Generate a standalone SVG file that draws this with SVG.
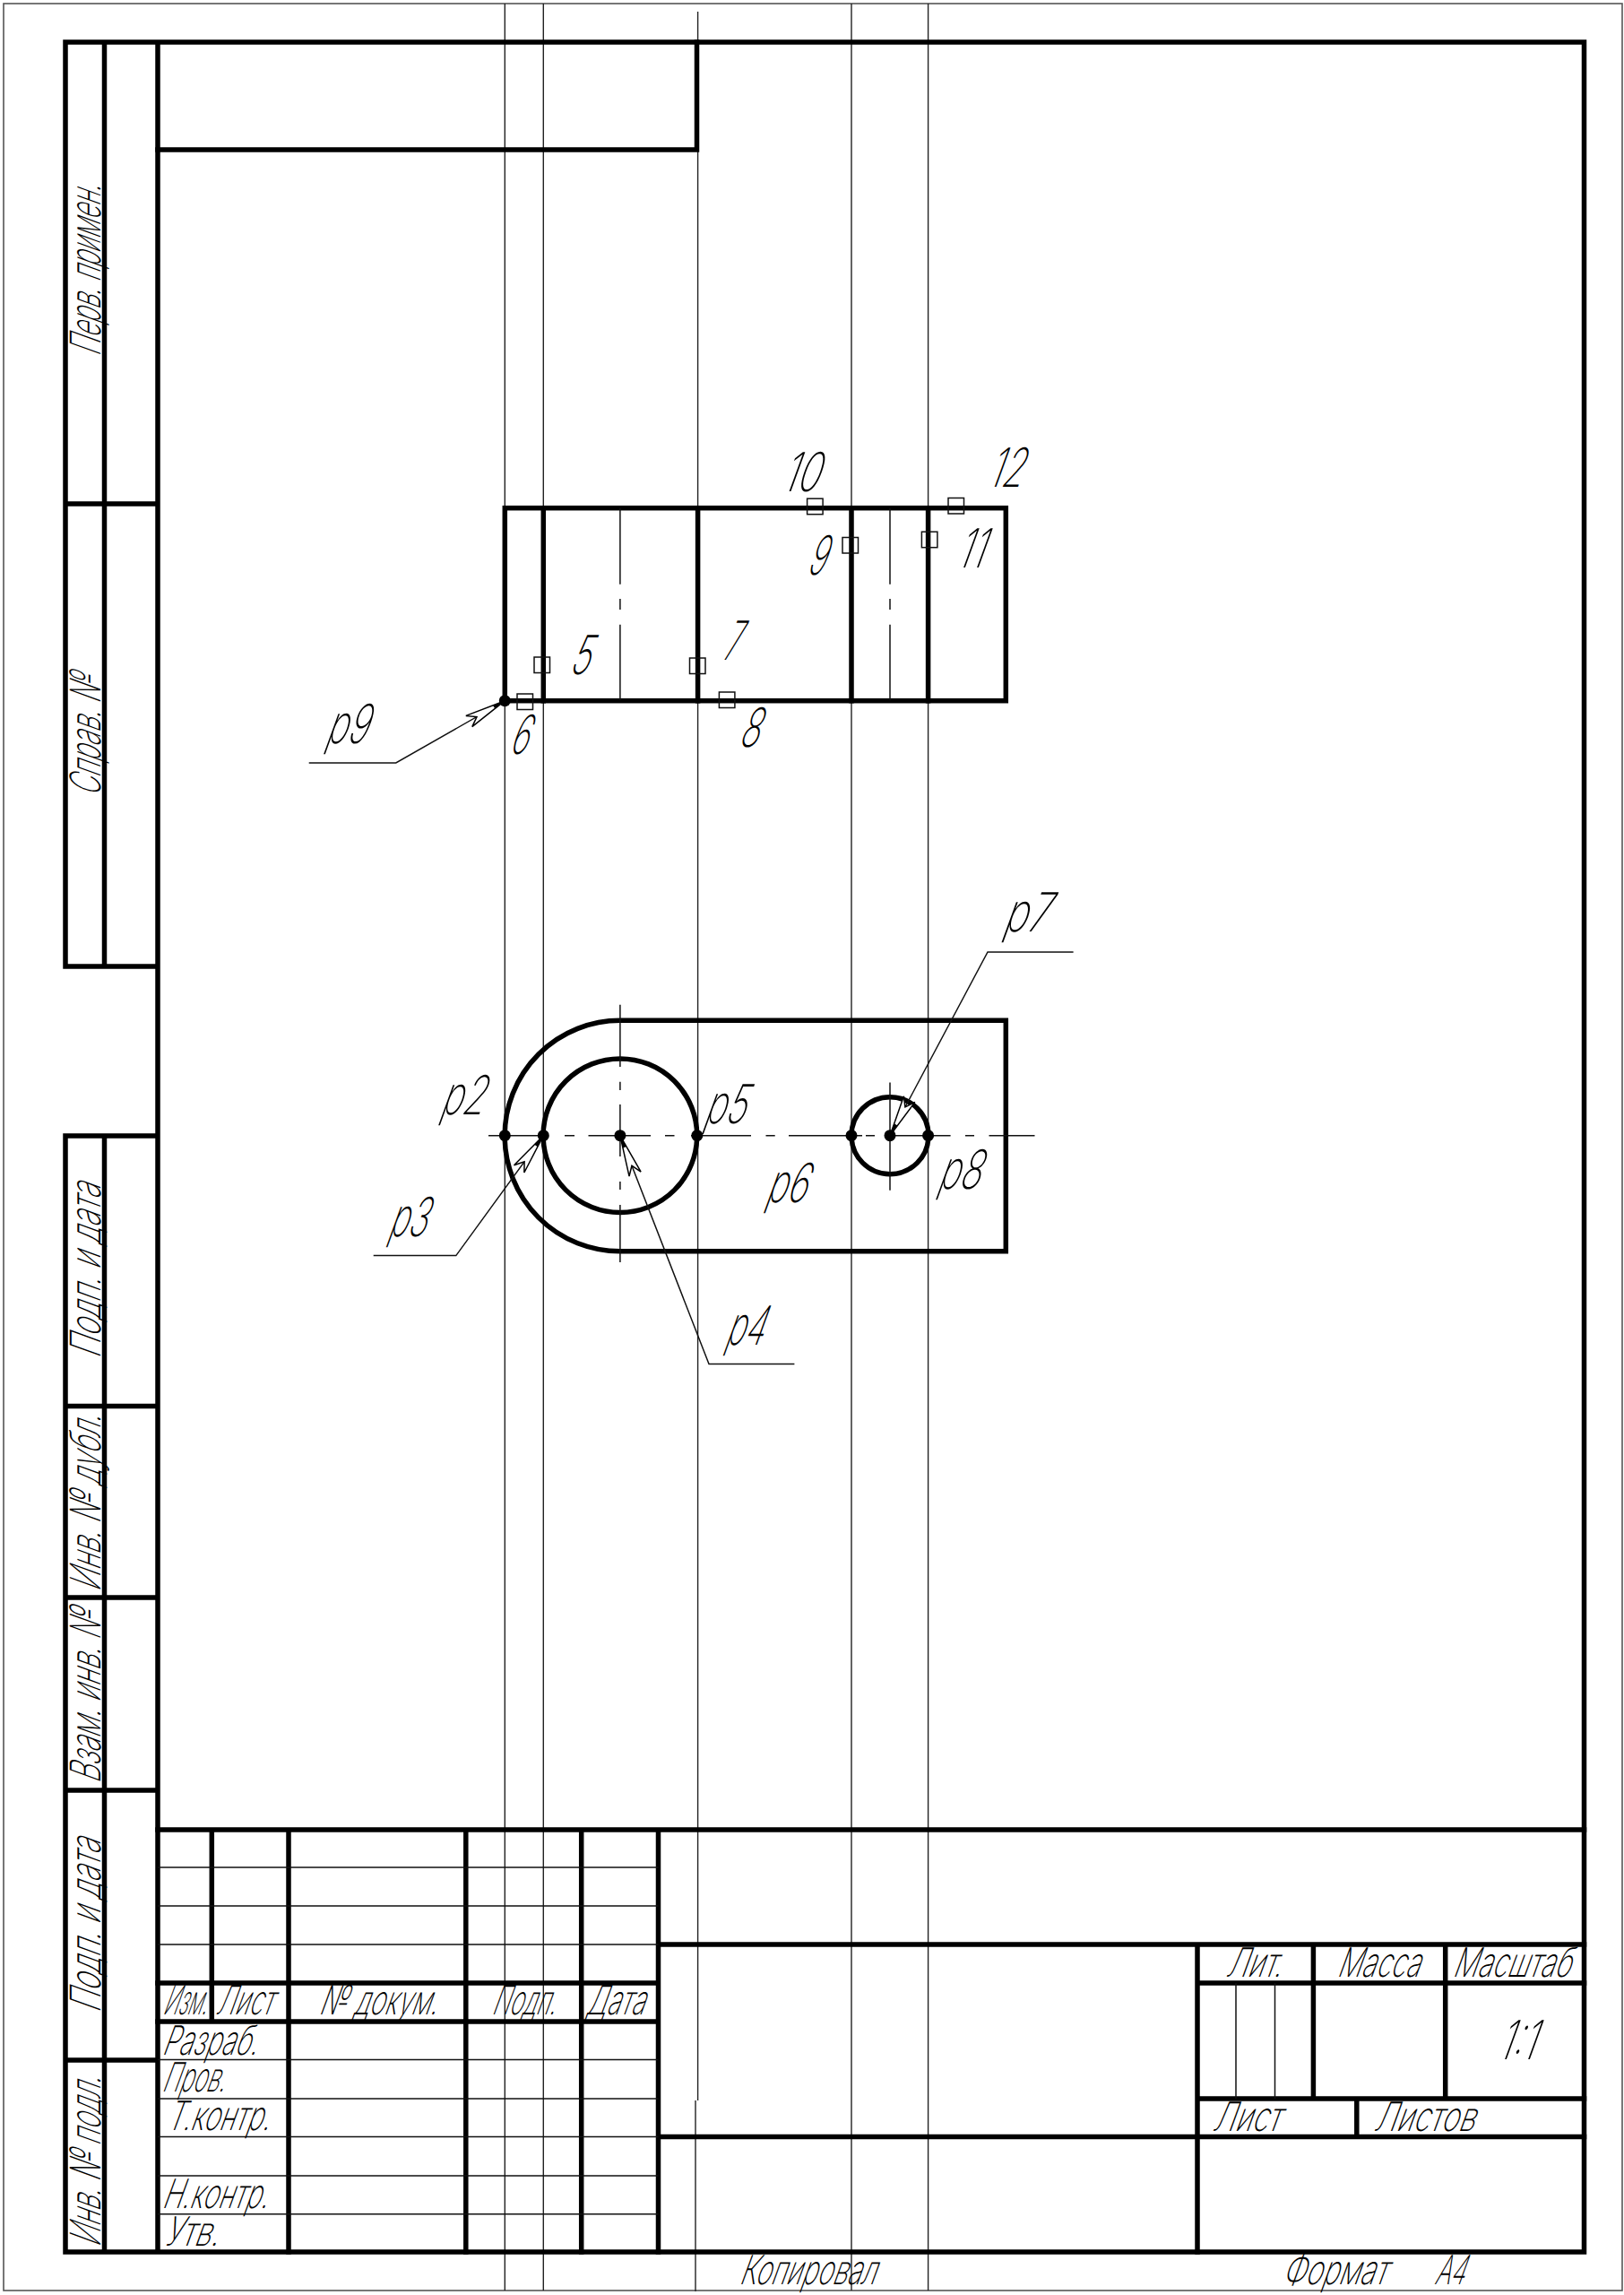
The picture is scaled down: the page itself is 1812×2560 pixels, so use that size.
<svg xmlns="http://www.w3.org/2000/svg" width="1812" height="2560" viewBox="0 0 1812 2560">
<style>
.h{stroke:#000;stroke-width:5.5;fill:none;stroke-linecap:square}
.m{stroke:#000;stroke-width:5.5;fill:none;stroke-linecap:square}
.f{stroke:#111;stroke-width:1.5;fill:none}
.q{stroke:#222;stroke-width:1.4;fill:none}
text{font-family:"Inter","Liberation Sans",sans-serif;font-weight:200;fill:#000}
.a{font-size:60px}.b{font-size:45px}.c{font-size:47px}
</style>
<defs>
<marker id="arr" viewBox="-48 -9 50 18" markerUnits="userSpaceOnUse" markerWidth="50" markerHeight="18" refX="0" refY="0" orient="auto">
<path d="M0 0L-46 -7L-36 0L-46 7Z" fill="#fff" stroke="#000" stroke-width="1.5"/>
<path d="M0 0L-14 -2.2L-14 2.2Z" fill="#000"/>
</marker>
</defs>
<rect width="1812" height="2560" fill="#fff"/>
<rect x="4" y="4" width="1806" height="2551" fill="none" stroke="#555" stroke-width="1.6"/>
<g id="construction-lines" class="q">
<path d="M563.3 4V2555M606.3 4V2555M778.6 13V2343M776 2343V2556M950 4V2555M1035.6 4V2555"/>
</g>
<g id="frame" class="h">
<path d="M73 47H1767.5V2512H73V1267H176M73 1078V47M116.5 47V1078M116.5 1267V2512M176 47V2512M73 1078H176M73 562H176M73 1568.6H176M73 1782H176M73 1997H176M73 2298H176"/>
<path d="M176 167H777.5V47"/>
</g>
<g id="title-block">
<path class="h" d="M176 2041H1767.5M176 2212H734.5M176 2255H734.5M322 2041V2512M236.3 2041V2255M519.8 2041V2512M648.7 2041V2512M734.5 2041V2512M734.5 2169H1767.5M734.5 2383.5H1767.5M1336 2169V2512M1336 2212H1767.5M1336 2341H1767.5M1465.4 2169V2341M1612.7 2169V2341M1513.8 2341V2383.5"/>
<path class="f" d="M176 2083H734.5M176 2126H734.5M176 2169H734.5M176 2297.5H734.5M176 2341H734.5M176 2383.6H734.5M176 2427H734.5M176 2469.7H734.5M1379 2212V2341M1422.5 2212V2341"/>
</g>
<g id="top-view">
<rect class="m" x="563.3" y="566.7" width="559" height="215"/>
<path class="m" d="M606.3 566.7V781.7M778.6 566.7V781.7M950 566.7V781.7M1035.6 566.7V781.7"/>
<path class="f" d="M691.9 567V651.7M691.9 668V680M691.9 696.7V781M993 567V651.7M993 668V680M993 696.7V781"/>
<g class="f"><rect x="596" y="733" width="17.5" height="17.5"/><rect x="769.5" y="734" width="17.5" height="17.5"/><rect x="577" y="774" width="17.5" height="17.5"/><rect x="802.4" y="772" width="17.5" height="17.5"/><rect x="900.6" y="556.2" width="17.5" height="17.5"/><rect x="1058" y="555.5" width="17.5" height="17.5"/><rect x="940" y="599.5" width="17.5" height="17.5"/><rect x="1028.4" y="593.2" width="17.5" height="17.5"/></g>
</g>
<g id="front-view">
<path class="m" d="M691.9 1138.3H1122.3V1395.8H691.9A128.7 128.7 0 0 1 691.9 1138.3Z"/>
<circle class="m" cx="691.9" cy="1266.7" r="85.8"/>
<circle class="m" cx="993" cy="1266.7" r="43"/>
<path class="f" stroke-width="2" d="M545 1266.7H612M630 1266.7H641M656.5 1266.7H726M742 1266.7H752.5M771 1266.7H838M854.5 1266.7H864.7M880 1266.7H962M966 1266.7H976M987 1266.7H1060.6M1077 1266.7H1087M1103.5 1266.7H1154.5M691.9 1120.7V1190M691.9 1206.7V1216M691.9 1232V1290M691.9 1318V1327M691.9 1344V1408M993 1207.5V1327.8"/>
<g fill="#000"><circle cx="563.3" cy="781.7" r="6.5"/><circle cx="563.3" cy="1266.7" r="6.5"/><circle cx="606.3" cy="1266.7" r="6.5"/><circle cx="691.9" cy="1266.7" r="6.5"/><circle cx="777.8" cy="1266.7" r="6.5"/><circle cx="950" cy="1266.7" r="6.5"/><circle cx="993" cy="1266.7" r="6.5"/><circle cx="1035.6" cy="1266.7" r="6.5"/></g>
</g>
<g id="connectors" class="f" stroke-width="1.6">
<path d="M344.7 851H441.8L563.3 781.7" marker-end="url(#arr)"/>
<path d="M416.7 1400.6H508.8L606.3 1266.7" marker-end="url(#arr)"/>
<path d="M886.4 1521.6H791L691.9 1266.7" marker-end="url(#arr)"/>
<path d="M1197.6 1062H1102L993 1266.7" marker-end="url(#arr)"/>
</g>
<g id="drawing-labels">
<text class="a" transform="translate(871 548) skewX(-20)" textLength="41" lengthAdjust="spacingAndGlyphs">10</text>
<text class="a" transform="translate(1101 543) skewX(-20)" textLength="38" lengthAdjust="spacingAndGlyphs">12</text>
<text class="a" transform="translate(899 641) skewX(-20)" textLength="20" lengthAdjust="spacingAndGlyphs">9</text>
<text class="a" transform="translate(1066 633) skewX(-20)" textLength="30" lengthAdjust="spacingAndGlyphs">11</text>
<text class="a" transform="translate(634 752) skewX(-20)" textLength="22" lengthAdjust="spacingAndGlyphs">5</text>
<text class="a" transform="translate(805 736) skewX(-20)" textLength="17" lengthAdjust="spacingAndGlyphs">7</text>
<text class="a" transform="translate(567 841) skewX(-20)" textLength="20" lengthAdjust="spacingAndGlyphs">6</text>
<text class="a" transform="translate(823 833) skewX(-20)" textLength="22" lengthAdjust="spacingAndGlyphs">8</text>
<text class="a" transform="translate(362 829) skewX(-20)" textLength="46" lengthAdjust="spacingAndGlyphs">p9</text>
<text class="a" transform="translate(490 1243) skewX(-20)" textLength="48" lengthAdjust="spacingAndGlyphs">p2</text>
<text class="a" transform="translate(784 1253) skewX(-20)" textLength="46" lengthAdjust="spacingAndGlyphs">p5</text>
<text class="a" transform="translate(432 1379) skewX(-20)" textLength="42" lengthAdjust="spacingAndGlyphs">p3</text>
<text class="a" transform="translate(808 1500) skewX(-20)" textLength="42" lengthAdjust="spacingAndGlyphs">p4</text>
<text class="a" transform="translate(853 1341) skewX(-20)" textLength="45" lengthAdjust="spacingAndGlyphs">p6</text>
<text class="a" transform="translate(1118 1039) skewX(-20)" textLength="50" lengthAdjust="spacingAndGlyphs">p7</text>
<text class="a" transform="translate(1045 1326) skewX(-20)" textLength="47" lengthAdjust="spacingAndGlyphs">p8</text>
</g>
<g id="title-labels">
<text class="b" transform="translate(181 2247) skewX(-20)" textLength="49" lengthAdjust="spacingAndGlyphs">Изм.</text>
<text class="b" transform="translate(240 2247) skewX(-20)" textLength="63" lengthAdjust="spacingAndGlyphs">Лист</text>
<text class="b" transform="translate(355 2247) skewX(-20)" textLength="132" lengthAdjust="spacingAndGlyphs">№ докум.</text>
<text class="b" transform="translate(548 2247) skewX(-20)" textLength="71" lengthAdjust="spacingAndGlyphs">Подп.</text>
<text class="b" transform="translate(653 2247) skewX(-20)" textLength="65" lengthAdjust="spacingAndGlyphs">Дата</text>
<text class="b" transform="translate(180 2292) skewX(-20)" textLength="106" lengthAdjust="spacingAndGlyphs">Разраб.</text>
<text class="b" transform="translate(180 2333.4) skewX(-20)" textLength="70" lengthAdjust="spacingAndGlyphs">Пров.</text>
<text class="b" transform="translate(185 2376.4) skewX(-20)" textLength="115" lengthAdjust="spacingAndGlyphs">Т.контр.</text>
<text class="b" transform="translate(180 2462.5) skewX(-20)" textLength="118" lengthAdjust="spacingAndGlyphs">Н.контр.</text>
<text class="b" transform="translate(182 2505) skewX(-20)" textLength="61" lengthAdjust="spacingAndGlyphs">Утв.</text>
<text class="b" transform="translate(1367 2205) skewX(-20)" textLength="62" lengthAdjust="spacingAndGlyphs">Лит.</text>
<text class="b" transform="translate(1491 2205) skewX(-20)" textLength="92" lengthAdjust="spacingAndGlyphs">Масса</text>
<text class="b" transform="translate(1620 2205) skewX(-20)" textLength="131" lengthAdjust="spacingAndGlyphs">Масштаб</text>
<text class="a" transform="translate(1670 2297) skewX(-20)" textLength="41" lengthAdjust="spacingAndGlyphs">1:1</text>
<text class="b" transform="translate(1352 2376.7) skewX(-20)" textLength="75" lengthAdjust="spacingAndGlyphs">Лист</text>
<text class="b" transform="translate(1532 2376.7) skewX(-20)" textLength="112" lengthAdjust="spacingAndGlyphs">Листов</text>
<text class="b" transform="translate(824 2548) skewX(-20)" textLength="152" lengthAdjust="spacingAndGlyphs">Копировал</text>
<text class="b" transform="translate(1430 2548) skewX(-20)" textLength="116" lengthAdjust="spacingAndGlyphs">Формат</text>
<text class="b" transform="translate(1600 2548) skewX(-20)" textLength="33" lengthAdjust="spacingAndGlyphs">А4</text>
</g>
<g id="side-labels">
<text class="c" transform="translate(112 398) rotate(-90) skewX(-20)" textLength="191" lengthAdjust="spacingAndGlyphs">Перв. примен.</text>
<text class="c" transform="translate(112 889) rotate(-90) skewX(-20)" textLength="135" lengthAdjust="spacingAndGlyphs">Справ. №</text>
<text class="c" transform="translate(112 1516) rotate(-90) skewX(-20)" textLength="195" lengthAdjust="spacingAndGlyphs">Подп. и дата</text>
<text class="c" transform="translate(112 1776) rotate(-90) skewX(-20)" textLength="197" lengthAdjust="spacingAndGlyphs">Инв. № дубл.</text>
<text class="c" transform="translate(112 1990) rotate(-90) skewX(-20)" textLength="193" lengthAdjust="spacingAndGlyphs">Взам. инв. №</text>
<text class="c" transform="translate(112 2246) rotate(-90) skewX(-20)" textLength="194" lengthAdjust="spacingAndGlyphs">Подп. и дата</text>
<text class="c" transform="translate(112 2507) rotate(-90) skewX(-20)" textLength="190" lengthAdjust="spacingAndGlyphs">Инв. № подл.</text>
</g>
</svg>
